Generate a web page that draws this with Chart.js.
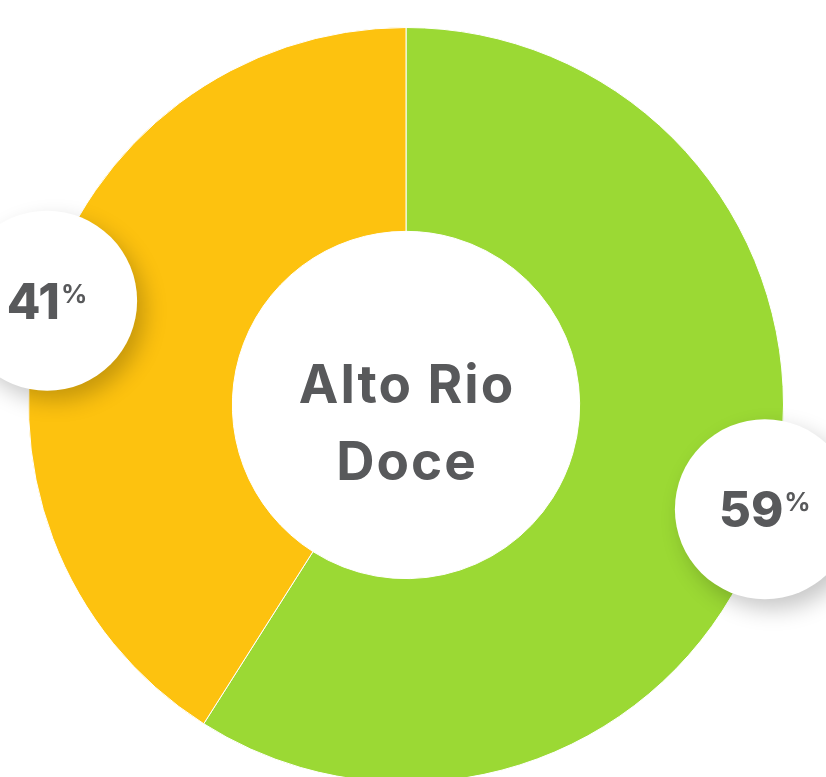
<!DOCTYPE html>
<html>
<head>
<meta charset="utf-8">
<script src="https://cdn.jsdelivr.net/npm/chart.js@4/dist/chart.umd.min.js"></script>
<style>
  html, body { margin: 0; padding: 0; background: #ffffff; overflow: hidden; }
  #wrap { position: absolute; left: 0; top: 0; width: 826px; height: 810px; }
</style>
</head>
<body>
<div id="wrap"><canvas id="chart"></canvas></div>
<script>
// Doughnut data for the Alto Rio Doce region
const categories = ['Segmento 1', 'Segmento 2'];
const shares = [59, 41];
const sliceColors = ['#9BD934', '#FDC20F'];
const centerTitle = ['Alto Rio', 'Doce'];

const TEXT_COLOR = '#58595B';
const FONT = 'Inter, "Open Sans", sans-serif';

// Draws the title in the hole and a round badge with each share on its slice
const badgePlugin = {
  id: 'badges',
  afterDatasetsDraw(chart) {
    const ctx = chart.ctx;
    const meta = chart.getDatasetMeta(0);
    const arcs = meta.data;
    if (!arcs.length) return;
    const cx = arcs[0].x, cy = arcs[0].y;

    // centre title
    ctx.save();
    ctx.fillStyle = TEXT_COLOR;
    ctx.textAlign = 'left';
    ctx.textBaseline = 'alphabetic';
    ctx.font = '700 53px ' + FONT;
    ctx.letterSpacing = '2px';
    centerTitle.forEach((line, k) => {
      const w = ctx.measureText(line).width - 2;
      ctx.fillText(line, cx - w / 2, cy - 2 + k * 77);
    });
    ctx.restore();

    // share badges at the middle of each slice, on the outer edge
    arcs.forEach((arc, i) => {
      const mid = (arc.startAngle + arc.endAngle) / 2;
      const r = arc.outerRadius * 0.99;
      const bx = cx + Math.cos(mid) * r;
      const by = cy + Math.sin(mid) * r;
      const br = 90;

      ctx.save();
      ctx.shadowColor = 'rgba(0,0,0,0.22)';
      ctx.shadowBlur = 22;
      ctx.shadowOffsetX = 8;
      ctx.shadowOffsetY = 10;
      ctx.beginPath();
      ctx.arc(bx, by, br, 0, Math.PI * 2);
      ctx.fillStyle = '#ffffff';
      ctx.fill();
      ctx.restore();

      const num = String(shares[i]);
      ctx.save();
      ctx.fillStyle = TEXT_COLOR;
      ctx.textBaseline = 'alphabetic';
      ctx.textAlign = 'left';
      ctx.font = '800 49px ' + FONT;
      const wNum = ctx.measureText(num).width;
      ctx.font = '700 26px ' + FONT;
      const wPct = ctx.measureText('%').width;
      const startX = bx - (wNum + wPct + 1) / 2;
      const base = by + 18;
      ctx.font = '800 49px ' + FONT;
      ctx.fillText(num, startX, base);
      ctx.font = '700 26px ' + FONT;
      ctx.fillText('%', startX + wNum + 1, base - 16);
      ctx.restore();
    });
  }
};

new Chart(document.getElementById('chart'), {
  type: 'doughnut',
  data: {
    labels: categories,
    datasets: [{
      data: shares,
      backgroundColor: sliceColors,
      borderColor: '#ffffff',
      borderWidth: 1,
      hoverOffset: 0
    }]
  },
  options: {
    responsive: true,
    maintainAspectRatio: false,
    animation: false,
    cutout: '46%',
    rotation: 0,
    layout: { padding: { left: 28, right: 42, top: 27, bottom: 27 } },
    plugins: {
      legend: { display: false },
      tooltip: { enabled: false }
    }
  },
  plugins: [badgePlugin]
});
</script>
</body>
</html>
